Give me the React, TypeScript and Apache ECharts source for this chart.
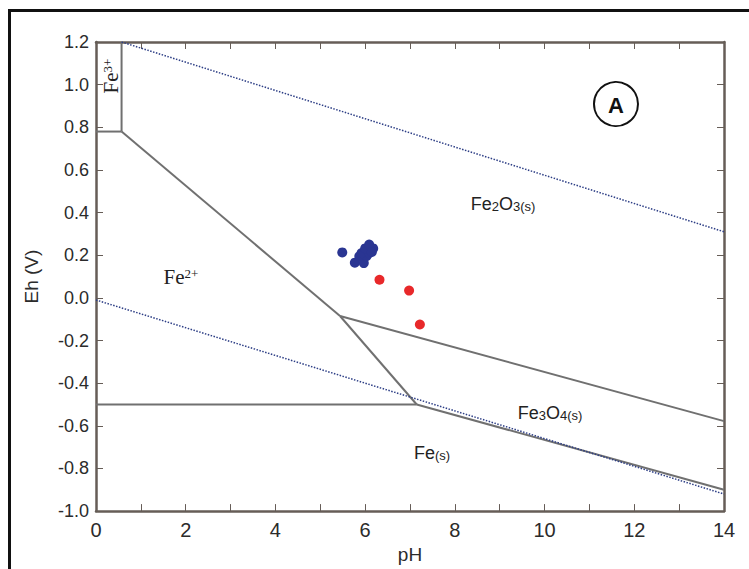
import React, { useEffect, useRef } from "react";
import * as echarts from "echarts";

// Stability field boundaries [pH, Eh]
const fe3Fe2Boundary = [[0, 0.78], [0.57, 0.78]];
const fe3VerticalBoundary = [[0.57, 0.78], [0.57, 1.2]];
const fe2Fe2o3Boundary = [[0.57, 0.78], [5.44, -0.085]];
const fe2Fe3o4Boundary = [[5.44, -0.085], [7.15, -0.5]];
const fe2o3Fe3o4Boundary = [[5.44, -0.085], [14, -0.578]];
const fe2FeBoundary = [[0, -0.5], [7.15, -0.5]];
const fe3o4FeBoundary = [[7.15, -0.5], [14, -0.9]];
// Water stability limits (dotted)
const waterUpper = [[0.57, 1.2], [14, 0.31]];
const waterLower = [[0, -0.01], [14, -0.92]];

// Samples [pH, Eh]
const blueSamples = [
  [5.49, 0.213], [5.77, 0.165], [5.97, 0.163], [5.87, 0.195], [6.03, 0.195],
  [5.92, 0.21], [6.09, 0.21], [6.0, 0.232], [6.18, 0.232], [6.09, 0.25], [6.15, 0.215],
];
const redSamples = [[6.32, 0.085], [6.98, 0.034], [7.22, -0.125]];

const xTicks = { min: 0, max: 14, interval: 2 };
const yTicks = { min: -1.0, max: 1.2, interval: 0.2 };

const frameColor = "#665d57";
const labelColor = "#2b2b2b";
const lineColor = "#707070";
const dotColor = "#2e3f86";

export default function App() {
  const ref = useRef<HTMLDivElement>(null);
  useEffect(() => {
    const chart = echarts.init(ref.current!, null, { renderer: "svg" });
    const solid = (name: string, data: number[][]) => ({
      name, type: "line", data, symbol: "none", silent: true,
      lineStyle: { color: lineColor, width: 2 }, z: 2,
    });
    const dotted = (name: string, data: number[][]) => ({
      name, type: "line", data, symbol: "none", silent: true,
      lineStyle: { color: dotColor, width: 1.5, type: "dotted" }, z: 2,
    });
    const axisLine = { show: true, onZero: false, lineStyle: { color: frameColor, width: 2.5 } };
    const tick = { show: true, inside: true, length: 7, lineStyle: { color: frameColor, width: 1 } };
    const minor = { show: true, splitNumber: 2, length: 7, lineStyle: { color: frameColor, width: 1 } };
    const fmt = (v: number) => (Math.abs(v) < 1e-9 ? "0.0" : v.toFixed(1));
    const nTxt = { fontFamily: "Liberation Sans, Arial, sans-serif", fontSize: 18, fill: "#222", verticalAlign: "bottom" };
    const sTxt = { fontFamily: "Liberation Sans, Arial, sans-serif", fontSize: 13, fill: "#222", verticalAlign: "bottom" };
    const serifN = { fontFamily: "Liberation Serif, Times New Roman, serif", fontSize: 21, fill: "#222", verticalAlign: "bottom" };
    const serifS = { fontFamily: "Liberation Serif, Times New Roman, serif", fontSize: 13, fill: "#222", verticalAlign: "top" };
    chart.setOption({
      animation: false,
      grid: { left: 96, top: 42, width: 628, height: 471 },
      xAxis: [
        {
          type: "value", position: "bottom", ...xTicks,
          axisLine, axisTick: tick, minorTick: minor, splitLine: { show: false },
          axisLabel: { color: labelColor, fontSize: 20, fontFamily: "Liberation Sans, Arial, sans-serif", margin: 9 },
          name: "pH", nameLocation: "middle", nameGap: 27,
          nameTextStyle: { color: labelColor, fontSize: 19, fontFamily: "Liberation Sans, Arial, sans-serif" },
        },
        {
          type: "value", position: "top", ...xTicks,
          axisLine, axisTick: tick, minorTick: minor, splitLine: { show: false },
          axisLabel: { show: false },
        },
      ],
      yAxis: [
        {
          type: "value", position: "left", ...yTicks,
          axisLine, axisTick: tick, splitLine: { show: false },
          axisLabel: { color: labelColor, fontSize: 18, fontFamily: "Liberation Sans, Arial, sans-serif", margin: 7, formatter: fmt },
          name: "Eh (V)", nameLocation: "middle", nameGap: 55,
          nameTextStyle: { color: labelColor, fontSize: 19, fontFamily: "Liberation Sans, Arial, sans-serif" },
        },
        {
          type: "value", position: "right", ...yTicks,
          axisLine, axisTick: tick, splitLine: { show: false },
          axisLabel: { show: false },
        },
      ],
      series: [
        solid("Fe3+/Fe2+", fe3Fe2Boundary),
        solid("Fe3+ limit", fe3VerticalBoundary),
        solid("Fe2+/Fe2O3", fe2Fe2o3Boundary),
        solid("Fe2+/Fe3O4", fe2Fe3o4Boundary),
        solid("Fe2O3/Fe3O4", fe2o3Fe3o4Boundary),
        solid("Fe2+/Fe", fe2FeBoundary),
        solid("Fe3O4/Fe", fe3o4FeBoundary),
        dotted("Water upper", waterUpper),
        dotted("Water lower", waterLower),
        { name: "Blue samples", type: "scatter", data: blueSamples, symbolSize: 10, itemStyle: { color: "#2a3592", opacity: 1 }, z: 5 },
        { name: "Red samples", type: "scatter", data: redSamples, symbolSize: 10, itemStyle: { color: "#e8282a", opacity: 1 }, z: 5 },
      ],
      graphic: [
        { type: "rect", shape: { x: 9.5, y: 10.5, width: 800, height: 700 }, style: { fill: "none", stroke: "#111", lineWidth: 3 }, silent: true },
        { type: "circle", shape: { cx: 616, cy: 104, r: 22 }, style: { fill: "#fff", stroke: "#111", lineWidth: 2 } },
        { type: "text", x: 616, y: 105, style: { text: "A", font: "bold 22px Liberation Sans, Arial, sans-serif", fill: "#111", align: "center", verticalAlign: "middle" } },
        { type: "text", x: 503, y: 204, style: { text: "{n|Fe}{s|2}{n|O}{s|3(s)}", rich: { n: nTxt, s: sTxt }, align: "center", verticalAlign: "middle" } },
        { type: "text", x: 550, y: 413, style: { text: "{n|Fe}{s|3}{n|O}{s|4(s)}", rich: { n: nTxt, s: sTxt }, align: "center", verticalAlign: "middle" } },
        { type: "text", x: 432, y: 453, style: { text: "{n|Fe}{s|(s)}", rich: { n: nTxt, s: sTxt }, align: "center", verticalAlign: "middle" } },
        { type: "text", x: 181, y: 277, style: { text: "{n|Fe}{s|2+}", rich: { n: serifN, s: serifS }, align: "center", verticalAlign: "middle" } },
        { type: "text", x: 111, y: 76, rotation: Math.PI / 2, style: { text: "{n|Fe}{s|3+}", rich: { n: serifN, s: serifS }, align: "center", verticalAlign: "middle" } },
      ],
    });
    return () => chart.dispose();
  }, []);
  return <div ref={ref} style={{ position: "absolute", left: 0, top: 0, width: 749, height: 569 }} />;
}
